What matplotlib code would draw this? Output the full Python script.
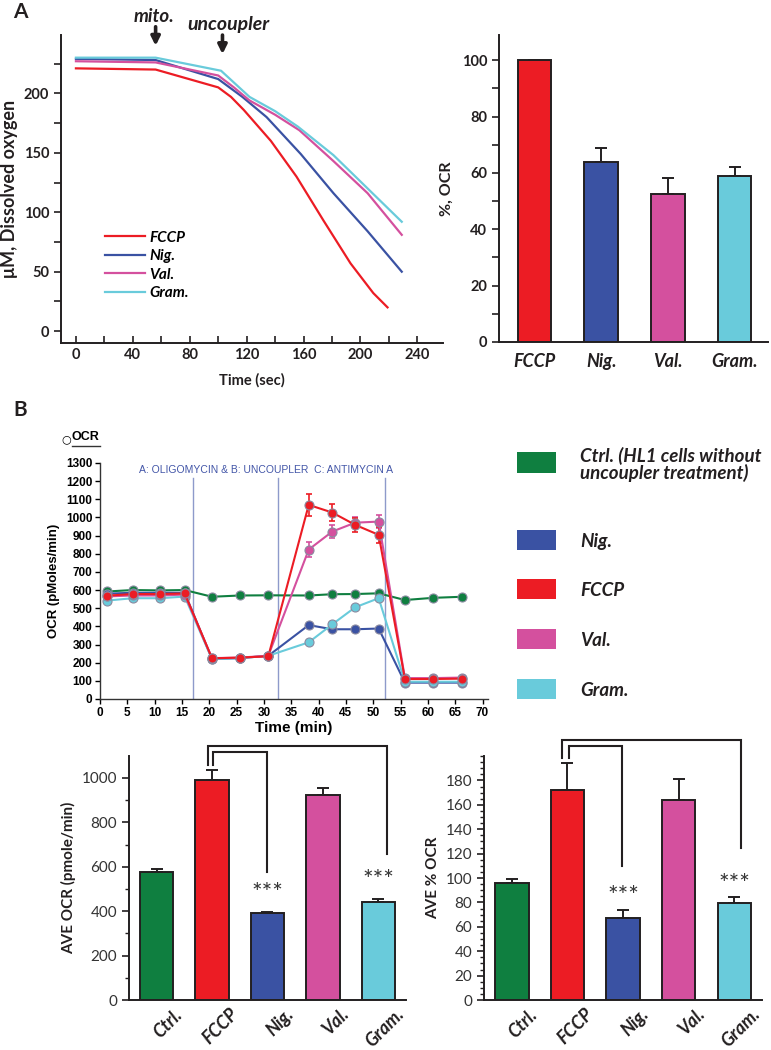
import numpy as np
import matplotlib
matplotlib.use("Agg")
import matplotlib.pyplot as plt
import matplotlib.transforms as mtrans
from matplotlib.patches import Rectangle
from matplotlib.ticker import MultipleLocator

plt.rcParams['font.family'] = ['Lato', 'DejaVu Sans']

# ---- panel A: dissolved oxygen traces (uM) ----
t_fccp = [0, 56, 100, 109, 118, 137, 155, 174, 193, 209, 219]
o2_fccp = [221, 220, 205, 197, 186, 160, 130, 93, 57, 32, 20]
t_nig = [0, 56, 100, 117, 134, 158, 181, 205, 229]
o2_nig = [229, 228, 212, 197, 180, 149, 116, 84, 50]
t_val = [0, 56, 100, 111, 122, 140, 157, 181, 205, 229]
o2_val = [227, 226, 215, 205, 194, 182, 169, 143, 116, 81]
t_gram = [0, 56, 102, 112, 122, 140, 156, 181, 205, 229]
o2_gram = [230, 230, 219, 208, 197, 185, 172, 148, 120, 92]

# ---- panel A: % OCR ----
a_names = ['FCCP', 'Nig.', 'Val.', 'Gram.']
a_pct = [100, 64, 52.5, 59]
a_err = [0, 5, 5.8, 3.3]

# ---- panel B: seahorse OCR trace (pMoles/min) ----
ts_min = [1.3, 6.0, 10.9, 15.5, 20.5, 25.6, 30.8, 38.2, 42.5, 46.7, 51.0, 55.8, 60.9, 66.3]
ocr_ctrl = [592, 600, 598, 600, 563, 570, 571, 570, 577, 578, 582, 545, 557, 563]
ocr_nig = [580, 585, 585, 585, 220, 225, 238, 407, 384, 384, 388, 90, 90, 90]
ocr_fccp = [569, 578, 578, 581, 224, 228, 235, 1069, 1027, 959, 904, 110, 110, 112]
ocr_val = [565, 570, 570, 575, 225, 228, 238, 823, 922, 971, 977, 115, 115, 118]
ocr_gram = [542, 555, 555, 564, 220, 225, 238, 312, 411, 505, 555, 95, 95, 95]
ocr_fccp_err = [0, 0, 0, 0, 0, 0, 0, 60, 45, 40, 45, 0, 0, 0]
ocr_val_err = [0, 0, 0, 0, 0, 0, 0, 40, 35, 30, 35, 0, 0, 0]
inject_min = [17.1, 32.6, 52.1]

# ---- panel B: averages ----
b_names = ['Ctrl.', 'FCCP', 'Nig.', 'Val.', 'Gram.']
ave_ocr = [575, 990, 392, 923, 443]
ave_ocr_err = [14, 45, 6, 30, 10]
ave_pct = [96, 172, 67, 164, 79.5]
ave_pct_err = [3.5, 22, 7, 17, 5]

legend_names = ['Ctrl. (HL1 cells without\nuncoupler treatment)', 'Nig.', 'FCCP', 'Val.', 'Gram.']

RED = '#ec1c24'
BLUE = '#3a52a3'
MAG = '#d4509e'
CYAN = '#69cbdb'
GREEN = '#0f7f40'
INK = '#231f20'
SH = 'Liberation Sans'

fig = plt.figure(figsize=(7.71, 10.5), dpi=100)

# ================= A left =================
ax1 = fig.add_axes([0.0791, 0.6733, 0.4955, 0.2933])
ax1.plot(t_fccp, o2_fccp, color=RED, lw=1.6, label='FCCP')
ax1.plot(t_nig, o2_nig, color=BLUE, lw=1.6, label='Nig.')
ax1.plot(t_val, o2_val, color=MAG, lw=1.6, label='Val.')
ax1.plot(t_gram, o2_gram, color=CYAN, lw=1.6, label='Gram.')
ax1.set_xlim(-10.5, 258)
ax1.set_ylim(-10, 249)
for s in ['top', 'right']:
    ax1.spines[s].set_visible(False)
for s in ['left', 'bottom']:
    ax1.spines[s].set_linewidth(1.4)
    ax1.spines[s].set_color(INK)
ax1.xaxis.set_major_locator(MultipleLocator(40))
ax1.xaxis.set_minor_locator(MultipleLocator(20))
ax1.yaxis.set_major_locator(MultipleLocator(50))
ax1.yaxis.set_minor_locator(MultipleLocator(25))
ax1.tick_params(axis='x', which='both', direction='in', length=5, width=1.2, color=INK)
ax1.tick_params(axis='y', which='both', direction='out', length=5, width=1.2, color=INK)
ax1.tick_params(labelsize=10.5, colors=INK)
for lab in ax1.get_xticklabels() + ax1.get_yticklabels():
    lab.set_fontweight('bold')
ax1.set_xlabel('Time (sec)', fontsize=10.5, fontweight='bold', color=INK, labelpad=8)
ax1.set_ylabel('\u03bcM, Dissolved oxygen', fontsize=13, fontweight='bold', color=INK, labelpad=4)
ax1.legend(loc='upper left', bbox_to_anchor=(0.08, 0.41), frameon=False,
           handlelength=2.6, handletextpad=0.3, labelspacing=0.3,
           prop={'style': 'italic', 'weight': 'bold', 'size': 11})
arrow = dict(arrowstyle='-|>', lw=2.6, color=INK, mutation_scale=13, shrinkA=0, shrinkB=0)
ax1.annotate('', xy=(56, 240), xytext=(56, 256), arrowprops=arrow, annotation_clip=False)
ax1.annotate('', xy=(103, 233), xytext=(103, 249), arrowprops=arrow, annotation_clip=False)
ax1.text(55, 265, 'mito.', ha='center', va='center', fontsize=13.5, style='italic',
         fontweight='bold', color=INK, clip_on=False)
ax1.text(107, 258, 'uncoupler', ha='center', va='center', fontsize=14, style='italic',
         fontweight='bold', color=INK, clip_on=False)

# ================= A right =================
ax2 = fig.add_axes([0.6472, 0.6743, 0.3489, 0.2924])
xa = np.arange(len(a_names))
ax2.bar(xa, a_pct, width=0.5, color=[RED, BLUE, MAG, CYAN], edgecolor=INK, linewidth=1.4, zorder=2)
ax2.errorbar(xa, a_pct, yerr=[np.zeros(len(a_err)), a_err], fmt='none', ecolor=INK,
             elinewidth=1.4, capsize=4, capthick=1.4, zorder=1)
ax2.set_xlim(-0.53, 3.5)
ax2.set_ylim(0, 109)
for s in ['top', 'right']:
    ax2.spines[s].set_visible(False)
for s in ['left', 'bottom']:
    ax2.spines[s].set_linewidth(1.4)
    ax2.spines[s].set_color(INK)
ax2.yaxis.set_major_locator(MultipleLocator(20))
ax2.yaxis.set_minor_locator(MultipleLocator(10))
ax2.tick_params(axis='y', which='both', direction='out', length=5, width=1.2, color=INK,
                labelsize=10.5, labelcolor=INK)
ax2.set_xticks(xa)
ax2.set_xticklabels(a_names, fontsize=13, style='italic', fontweight='bold', color=INK)
ax2.tick_params(axis='x', length=0, pad=8)
for lab in ax2.get_yticklabels():
    lab.set_fontweight('bold')
ax2.set_ylabel('%, OCR', fontsize=11.5, fontweight='bold', color=INK, labelpad=6)

fig.text(0.017, 0.989, 'A', fontsize=15, fontweight='bold', color=INK, va='center')
fig.text(0.017, 0.610, 'B', fontsize=15, fontweight='bold', color=INK, va='center')

# ================= B time series =================
ax3 = fig.add_axes([0.1297, 0.3343, 0.5032, 0.2248])
series = [(ocr_ctrl, GREEN, None), (ocr_nig, BLUE, None), (ocr_gram, CYAN, None),
          (ocr_val, MAG, ocr_val_err), (ocr_fccp, RED, ocr_fccp_err)]
for vals, col, err in series:
    if err is not None:
        ax3.errorbar(ts_min, vals, yerr=err, fmt='none', ecolor=col, elinewidth=1.2,
                     capsize=2.5, capthick=1.2, zorder=3)
    ax3.plot(ts_min, vals, color=col, lw=1.5, marker='o', markersize=6.5,
             markerfacecolor=col, markeredgecolor='#8a8aa0', markeredgewidth=0.8, zorder=4)
for xv in inject_min:
    ax3.plot([xv, xv], [0, 1215], color='#8e9acb', lw=1.0, zorder=1)
ax3.text(7.1, 1262, 'A: OLIGOMYCIN & B: UNCOUPLER  C: ANTIMYCIN A', fontsize=7.5,
         family=SH, color='#4356a8', ha='left', va='center')
ax3.set_xlim(0, 71)
ax3.set_ylim(0, 1300)
for s in ['top', 'right']:
    ax3.spines[s].set_visible(False)
for s in ['left', 'bottom']:
    ax3.spines[s].set_linewidth(1.0)
    ax3.spines[s].set_color('#333333')
ax3.xaxis.set_major_locator(MultipleLocator(5))
ax3.yaxis.set_major_locator(MultipleLocator(100))
ax3.tick_params(direction='out', length=3.5, width=1.0, labelsize=8.5, pad=2)
for lab in ax3.get_xticklabels() + ax3.get_yticklabels():
    lab.set_family(SH)
    lab.set_fontweight('bold')
ax3.set_xlabel('Time (min)', fontsize=11, fontweight='bold', family=SH, labelpad=2)
ax3.set_ylabel('OCR (pMoles/min)', fontsize=9.5, fontweight='bold', family=SH, labelpad=4)
fig.text(0.080, 0.5815, '\u25cb', fontsize=8, family='DejaVu Sans', ha='left', va='center')
fig.text(0.093, 0.5835, 'OCR', fontsize=9, fontweight='bold', family=SH, ha='left', va='center')
fig.add_artist(plt.Line2D([0.093, 0.1295], [0.5755, 0.5755], lw=1.0, color='#333333'))

# legend patches for B
leg_colors = [GREEN, BLUE, RED, MAG, CYAN]
leg_y = [462.5, 539.5, 589, 638.5, 688.5]
for name, col, yp in zip(legend_names, leg_colors, leg_y):
    fig.add_artist(Rectangle((517 / 771, 1 - (yp + 10) / 1050), 39 / 771, 20 / 1050,
                             transform=fig.transFigure, facecolor=col, edgecolor='none'))
    fig.text(580 / 771, 1 - (yp + 2) / 1050, name, fontsize=13.5, style='italic', fontweight='bold',
             color=INK, ha='left', va='center', linespacing=0.95)

# ================= B bottom bars =================
bar_colors = [GREEN, RED, BLUE, MAG, CYAN]
xb = np.arange(len(b_names))


def bracket(ax, x0, x1, y, y0, y1):
    ax.plot([x0, x0, x1, x1], [y0, y, y, y1], color=INK, lw=1.5, clip_on=False,
            solid_joinstyle='miter')


def bar_panel(ax, vals, errs, ylim_top, major, minor, ylabel):
    ax.bar(xb, vals, width=0.6, color=bar_colors, edgecolor=INK, linewidth=1.4, zorder=2)
    ax.errorbar(xb, vals, yerr=[np.zeros(len(errs)), errs], fmt='none', ecolor=INK,
                elinewidth=1.4, capsize=4, capthick=1.4, zorder=1)
    ax.set_xlim(-0.5, 4.5)
    ax.set_ylim(0, ylim_top)
    for s in ['top', 'right']:
        ax.spines[s].set_visible(False)
    for s in ['left', 'bottom']:
        ax.spines[s].set_linewidth(1.4)
        ax.spines[s].set_color(INK)
    ax.yaxis.set_major_locator(MultipleLocator(major))
    ax.yaxis.set_minor_locator(MultipleLocator(minor))
    ax.tick_params(axis='y', which='major', direction='out', length=5, width=1.2, color=INK,
                   labelsize=11, labelcolor='#333333')
    ax.tick_params(axis='y', which='minor', direction='out', length=3, width=1.0, color=INK)
    ax.set_xticks(xb)
    ax.set_xticklabels(b_names, rotation=45, ha='right', rotation_mode='anchor', fontsize=13,
                       style='italic', fontweight='bold', color=INK)
    ax.tick_params(axis='x', length=0, pad=4)
    shift = mtrans.ScaledTranslation(0.17, 0, fig.dpi_scale_trans)
    for lab in ax.get_xticklabels():
        lab.set_transform(lab.get_transform() + shift)
    ax.set_ylabel(ylabel, fontsize=11, fontweight='bold', color=INK, labelpad=4)


ax4 = fig.add_axes([0.1673, 0.0476, 0.3593, 0.2324])
bar_panel(ax4, ave_ocr, ave_ocr_err, 1099, 200, 100, 'AVE OCR (pmole/min)')
bracket(ax4, 0.92, 4.15, 1145, 1058, 658)
bracket(ax4, 1.02, 1.99, 1118, 1058, 577)
ax4.text(2, 478, '***', ha='center', va='center', fontsize=18, color='#333333')
ax4.text(4, 540, '***', ha='center', va='center', fontsize=18, color='#333333')

ax5 = fig.add_axes([0.6278, 0.0476, 0.3606, 0.2324])
bar_panel(ax5, ave_pct, ave_pct_err, 200, 20, 5, 'AVE % OCR')
ax5.set_ylim(0, 200)
ax5.set_yticks(np.arange(0, 181, 20))
bracket(ax5, 0.91, 4.13, 213, 198.6, 124.7)
bracket(ax5, 1.03, 1.99, 208, 198.6, 109.7)
ax5.text(2, 85, '***', ha='center', va='center', fontsize=18, color='#333333')
ax5.text(4, 95, '***', ha='center', va='center', fontsize=18, color='#333333')

fig.savefig('out.png', dpi=100)
